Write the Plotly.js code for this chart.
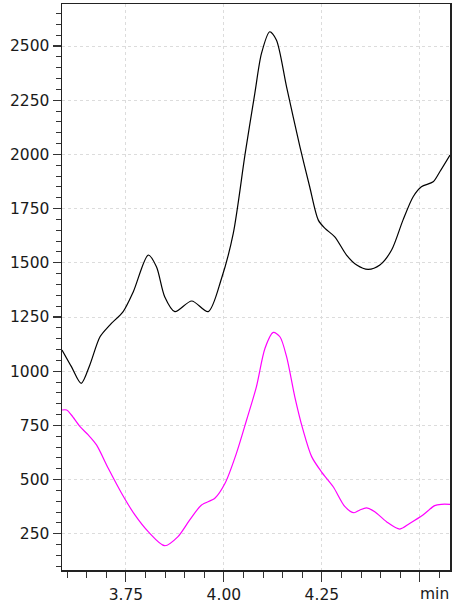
<!DOCTYPE html>
<html>
<head>
<meta charset="utf-8">
<script src="https://cdn.plot.ly/plotly-3.0.1.min.js"></script>
<style>
  html, body { margin: 0; padding: 0; background: #fff; }
  #chart { width: 452px; height: 603px; }
</style>
</head>
<body>
<div id="chart"></div>
<script>
// Black trace (retention time in min, signal)
const blackTime = [3.587, 3.611, 3.636, 3.658, 3.684, 3.709, 3.743, 3.769, 3.807, 3.828, 3.849, 3.875, 3.918, 3.960, 3.994, 4.024, 4.054, 4.079, 4.096, 4.117, 4.134, 4.160, 4.194, 4.219, 4.241, 4.258, 4.283, 4.313, 4.339, 4.368, 4.398, 4.428, 4.457, 4.483, 4.504, 4.534, 4.551, 4.577];
const blackValues = [1098, 1021, 944, 1029, 1159, 1213, 1275, 1367, 1536, 1482, 1344, 1275, 1324, 1275, 1428, 1636, 2000, 2282, 2466, 2566, 2528, 2312, 2036, 1851, 1697, 1659, 1620, 1536, 1490, 1470, 1490, 1559, 1697, 1805, 1851, 1874, 1920, 1997];

// Magenta trace
const magentaTime = [3.587, 3.599, 3.611, 3.633, 3.654, 3.675, 3.705, 3.739, 3.773, 3.807, 3.849, 3.883, 3.913, 3.943, 3.977, 4.003, 4.032, 4.058, 4.083, 4.105, 4.126, 4.143, 4.160, 4.181, 4.202, 4.224, 4.249, 4.279, 4.309, 4.332, 4.347, 4.364, 4.385, 4.415, 4.449, 4.474, 4.508, 4.538, 4.555, 4.577];
const magentaValues = [821, 821, 798, 744, 706, 660, 552, 437, 337, 260, 195, 237, 314, 383, 414, 483, 621, 775, 928, 1106, 1179, 1159, 1067, 882, 729, 606, 536, 467, 375, 347, 360, 370, 352, 306, 272, 298, 337, 380, 386, 386];

// Axis ticks
const xTickVals = [3.75, 4.00, 4.25, 4.50];
const xTickText = ['3.75', '4.00', '4.25', ''];
const yTickVals = [250, 500, 750, 1000, 1250, 1500, 1750, 2000, 2250, 2500];
const xUnitLabel = 'min';

const tickFont = { family: 'DejaVu Sans, Arial, sans-serif', size: 15.5, color: '#1a1a1a' };

const traces = [
  {
    x: blackTime, y: blackValues, type: 'scatter', mode: 'lines',
    line: { color: '#000000', width: 1.2, shape: 'spline', smoothing: 0.8 },
    hoverinfo: 'skip'
  },
  {
    x: magentaTime, y: magentaValues, type: 'scatter', mode: 'lines',
    line: { color: '#ff00ff', width: 1.2, shape: 'spline', smoothing: 0.8 },
    hoverinfo: 'skip'
  }
];

const layout = {
  width: 452, height: 603,
  margin: { l: 62, r: 2, t: 4, b: 33 },
  paper_bgcolor: '#ffffff', plot_bgcolor: '#ffffff',
  showlegend: false,
  xaxis: {
    range: [3.587, 4.577],
    tickmode: 'array', tickvals: xTickVals, ticktext: xTickText,
    ticks: 'outside', ticklen: 10, tickwidth: 1.2, tickcolor: '#333',
    tickfont: tickFont,
    showgrid: true, gridcolor: '#dcdcdc', griddash: 'dot', gridwidth: 1,
    showline: true, linecolor: '#222', linewidth: 1.5, mirror: true,
    zeroline: false,
    minor: { dtick: 0.05, tick0: 3.5, ticks: 'outside', ticklen: 6, tickwidth: 1, tickcolor: '#333', showgrid: false }
  },
  yaxis: {
    range: [83, 2694],
    tickmode: 'array', tickvals: yTickVals,
    ticks: 'outside', ticklen: 8, tickwidth: 1.2, tickcolor: '#333',
    tickfont: tickFont,
    showgrid: true, gridcolor: '#dcdcdc', griddash: 'dot', gridwidth: 1,
    showline: true, linecolor: '#222', linewidth: 1.5, mirror: true,
    zeroline: false,
    minor: { dtick: 50, tick0: 0, ticks: 'outside', ticklen: 5, tickwidth: 1, tickcolor: '#333', showgrid: false }
  },
  annotations: [
    {
      text: xUnitLabel, xref: 'paper', yref: 'paper',
      x: 1, y: 0, xanchor: 'right', yanchor: 'top', xshift: 1, yshift: -13,
      showarrow: false, font: tickFont
    }
  ]
};

Plotly.newPlot('chart', traces, layout, { displayModeBar: false, staticPlot: true });
</script>
</body>
</html>
